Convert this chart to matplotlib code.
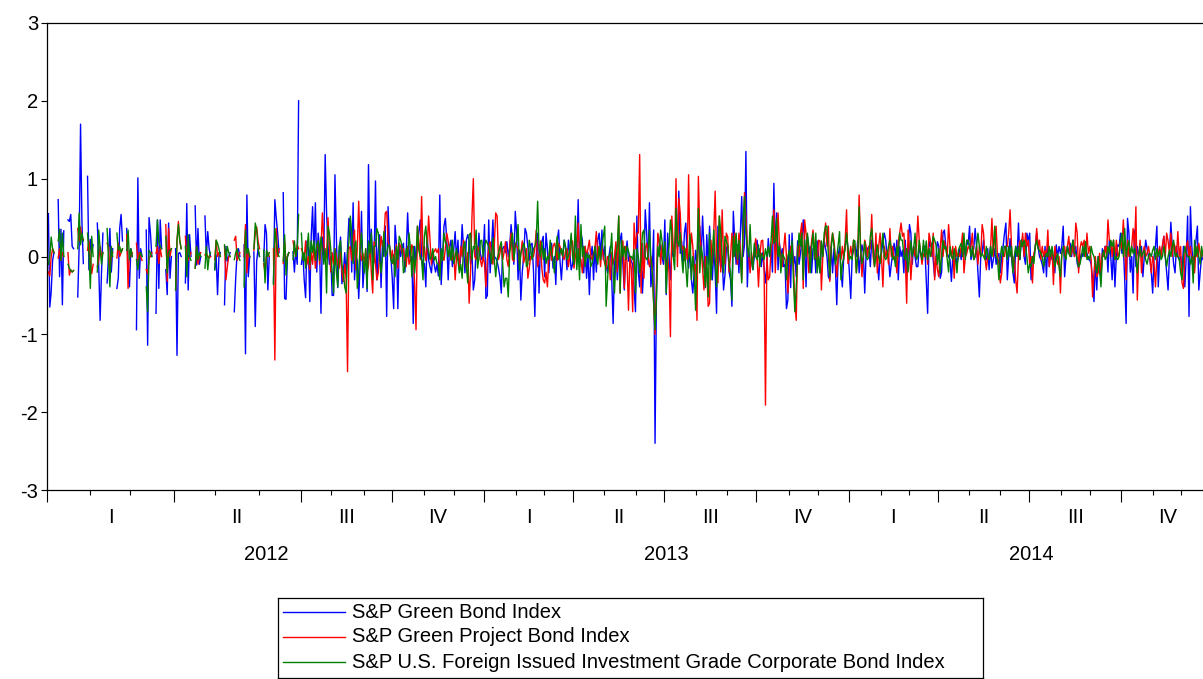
import numpy as np
import pandas as pd
import matplotlib
matplotlib.use("Agg")
import matplotlib.pyplot as plt

plt.rcParams['font.family'] = ['Liberation Sans', 'DejaVu Sans']

series_names = [
    "S&P Green Bond Index",
    "S&P Green Project Bond Index",
    "S&P U.S. Foreign Issued Investment Grade Corporate Bond Index",
]
series_colors = ["#0000FF", "#FF0000", "#008000"]
quarter_names = ["I", "II", "III", "IV"]
y_ticks = [-3, -2, -1, 0, 1, 2, 3]

# ---- S&P Green Bond Index: daily returns (%) ----
# Jan-Jun 2012, one row per week (Mon..Fri); weekends are missing
green_bond_2012_h1 = [
    0.55, -0.65, -0.45, -0.05, 0.05,
    0.73, -0.26, 0.35, -0.62, 0.33,
    0.47, 0.45, 0.54, 0.13, 0.1,
    -0.52, 0.13, 1.70, 0.43, -0.09,
    1.03, -0.17, 0.22, 0.05, 0.15,
    0.43, -0.12, -0.82, -0.2, 0.3,
    -0.34, 0.0, 0.36, -0.2, 0.1,
    -0.41, -0.28, 0.36, 0.54, 0.2,
    0.36, -0.09, -0.39, 0.1, 0.0,
    -0.94, 1.01, -0.28, 0.1, 0.0,
    0.34, -1.14, 0.5, 0.3, 0.0,
    -0.73, 0.47, -0.41, 0.47, 0.1,
    -0.17, -0.49, 0.43, -0.28, 0.0,
    0.1, -1.27, 0.04, 0.05, 0.0,
    -0.34, 0.68, -0.43, 0.28, 0.0,
    0.65, -0.11, 0.36, -0.1, 0.0,
    0.52, 0.0, 0.32, 0.1, 0.0,
    -0.17, 0.02, -0.49, 0.0, 0.05,
    -0.62, 0.13, -0.06, 0.0, 0.05,
    -0.71, -0.28, 0.05, 0.1, 0.0,
    0.15, -1.25, 0.79, -0.26, 0.0,
    0.06, -0.9, -0.06, 0.1, 0.0,
    -0.06, 0.41, 0.3, -0.43, 0.0,
    -0.34, 0.73, 0.5, 0.3, 0.05,
    0.82, -0.54, -0.55, 0.0, 0.05,
    0.06, -0.2, 0.1, -0.1, 2.0,
]
green_bond_2012_h2 = [
    -0.1, 0.05, -0.3, -0.53, 0.2, 0.1, -0.58, 0.25, 0.64, 0.0,
    0.69, -0.2, 0.3, 0.1, -0.73, 0.25, 0.0, 1.31, 0.56, 0.15,
    -0.1, 0.0, -0.5, -0.5, 1.05,
    0.25, -0.4, 0.05, 0.25, -0.35, -0.2, 0.05, -0.25, 0.1, 0.49,
    0.45, -0.2, 0.69, -0.3, 0.0, -0.05, -0.54, -0.1, 0.58, -0.4,
    -0.1, 0.0, -0.45, 1.18, 0.0, 0.35, 0.0, -0.08, 0.97, -0.3,
    0.08, 0.28, -0.4, 0.2, 0.0, 0.39, -0.77, 0.64, 0.15, 0.0,
    -0.28, -0.67, 0.4, 0.15, -0.67, 0.17, 0.0, 0.12, 0.17, -0.2,
    0.05, 0.56, 0.1, -0.06, 0.0, -0.86, 0.13, -0.04, 0.13, 0.3,
    0.47, 0.0, -0.17, -0.09, -0.39, 0.26, -0.04, -0.13, -0.21, 0.0,
    -0.1,
    -0.2, -0.1, -0.25, 0.79, -0.36, 0.0, 0.39, 0.49, 0.2, -0.3,
    0.13, 0.21, -0.13, 0.1, 0.32, -0.05, 0.21, -0.17, 0.0, 0.41,
    0.1, -0.21, 0.21, 0.28, 0.2, -0.1, 0.05, -0.43, -0.3, 0.13,
    -0.04, 0.3, 0.04, -0.04, 0.0,
]
green_bond_2013 = [
    0.41, -0.54, -0.5, 0.47, -0.21, 0.1, 0.47, 0.0, -0.02, -0.06,
    -0.15, -0.26, -0.47, 0.1, 0.13, 0.05, 0.19, 0.0, 0.1, 0.41,
    0.21, -0.1, 0.58, 0.3, -0.3, 0.08, -0.56, -0.2, 0.0, 0.36,
    0.3, 0.13, -0.05, 0.15, 0.17,
    -0.17, -0.77, 0.0, 0.3, -0.47, 0.15, 0.19, 0.26, -0.26, 0.3,
    0.1, -0.21, 0.08, 0.17, -0.15, 0.0, -0.36, 0.2, 0.34, -0.06,
    -0.3, 0.0, 0.21, 0.1, -0.17, 0.21, 0.05, -0.17, -0.1, 0.05,
    0.26, 0.0, 0.73, -0.13, 0.3, 0.21, -0.21, 0.13, -0.28, 0.05,
    -0.49, 0.0, 0.13, -0.3, 0.13, -0.2, 0.21, 0.3, 0.0, 0.34,
    -0.04, 0.13, -0.1, -0.21, 0.0, 0.13, -0.28, -0.86, -0.1, 0.15,
    -0.3, 0.0, 0.21, 0.3, -0.1, -0.43, 0.0, 0.2, -0.06, 0.0,
    -0.06, -0.1, -0.4, -0.71, 0.52, -0.2, -0.39, 0.17, -0.47, -0.1,
    0.6, 0.3, -0.1, 0.69, -0.39, -0.2, 0.34, -2.4, -0.47, 0.28,
    0.2, 0.1, 0.0, -0.1, 0.47, -0.49, 0.3, 0.0, -0.3, 0.1,
    0.0, 0.15, 0.3, 0.1, 0.84, 0.04, 0.2, -0.1, 0.3, 0.43,
    0.0, -0.15, 0.1, -0.3, -0.47, -0.2, 0.08, -0.1, 0.15, 0.39,
    0.0, 0.52, 0.1, -0.4, 0.28, -0.1, 0.39, 0.0, -0.3, 0.1,
    -0.2, -0.73, 0.39, 0.0, -0.15, 0.0, -0.43, -0.24, 0.1, 0.15,
    -0.2, -0.3, -0.64, 0.58, 0.2, -0.1, 0.15, -0.21, 0.3, 0.77,
    0.0, 0.15, 1.35, -0.39, 0.08, -0.1, -0.05, -0.17, 0.0, 0.1,
    0.21, 0.0, 0.1, -0.13, 0.05, -0.15, -0.34, -0.1, 0.23, 0.0,
    0.1, -0.2, 0.94, 0.06, 0.56, -0.17, 0.17, 0.0, 0.1, -0.13,
    -0.1, -0.67, -0.56, 0.28, -0.4, 0.3, -0.1, 0.0, -0.26, 0.2,
    -0.1, 0.04, 0.2, 0.47, 0.21, -0.39, 0.26, 0.04, 0.13, -0.21,
    0.1, 0.13, -0.21, 0.2, 0.0, -0.21, 0.19, 0.0, 0.21, 0.1,
    0.0, -0.26, -0.3, 0.13, -0.21, 0.1, -0.13, -0.62, 0.0, 0.13,
    -0.2, -0.39, 0.0, 0.13, 0.3, 0.1,
]
green_bond_2014 = [
    -0.2, -0.54, 0.0, 0.08, 0.13, 0.0, 0.21, -0.21, 0.0, 0.15,
    0.05, -0.47, 0.04, 0.1, 0.13, -0.13, 0.21, 0.13, 0.0, 0.0,
    -0.04, -0.3, 0.0, 0.04, 0.19, 0.3, 0.21, 0.0, 0.0, -0.26,
    -0.1, 0.04, 0.17, 0.0, 0.21, -0.3, 0.13, 0.0, 0.08, -0.21,
    0.21, -0.21, 0.0, 0.41, 0.3, -0.1, 0.13, 0.0, -0.13, -0.13,
    0.13, 0.04, 0.0, 0.13,
    0.13, -0.3, -0.73, 0.2, 0.13, 0.17, -0.04, -0.26, 0.0, 0.19,
    0.13, -0.28, -0.2, 0.3, 0.34, 0.13, 0.04, 0.0, -0.04, -0.32,
    0.0, -0.13, 0.02, -0.1, 0.0, 0.1, -0.04, 0.21, 0.13, 0.0,
    0.2, 0.15, 0.39, -0.04, 0.04, 0.1, 0.36, 0.13, -0.21, -0.52,
    0.0, 0.04, 0.21, 0.0, -0.04, 0.1, -0.17, 0.13, -0.15, -0.04,
    0.1, -0.1, 0.0, 0.04, -0.21, 0.0, 0.13, 0.3, 0.43, -0.3,
    0.0, 0.23, 0.0, -0.2, -0.34, 0.13, 0.0, 0.43, -0.04, 0.21,
    0.21, 0.0, -0.1, 0.3, 0.2, 0.3, -0.3, 0.0, -0.04, 0.13,
    0.3, 0.13, 0.0, -0.04, -0.1, -0.21, 0.13, -0.26, 0.17, -0.13,
    0.08, -0.04, 0.0, -0.21, 0.15, 0.0, 0.13, 0.04, 0.13, 0.39,
    -0.26, 0.0, 0.13, 0.04, 0.17, 0.0, 0.21, 0.0, 0.13, -0.09,
    -0.15, -0.04, 0.04, 0.0, 0.13, 0.0, 0.04, -0.04, -0.04, -0.1,
    -0.3, -0.58, -0.04, -0.43, 0.0, -0.13, -0.3, 0.1, 0.0, 0.13,
    0.13, -0.2, 0.21, 0.0, -0.3, 0.13, -0.39, 0.0, 0.15, 0.13,
    0.3, 0.04, 0.13, -0.3, -0.86, 0.49, 0.3, -0.2, 0.0, -0.47,
    0.34, -0.13, 0.13, 0.0, 0.1, 0.13, -0.26, 0.0, 0.21, 0.1,
    0.0, -0.04, -0.2, -0.47, 0.0, 0.13, 0.39, -0.39, 0.0, 0.04,
    0.13, 0.26, 0.0, -0.2, -0.43, 0.0, 0.44, 0.13, -0.1, -0.21,
    0.13, 0.0, -0.04, 0.0, -0.21, 0.13, -0.39, 0.0, 0.52, -0.77,
    0.64, 0.13, -0.13, 0.0, 0.21, 0.39, -0.43, -0.2, 0.0, -0.04,
]

# ---- S&P Green Project Bond Index ----
project_bond_2012_h1 = [
    -0.2, -0.25, 0.0, 0.1, 0.05,
    -0.02, 0.1, -0.05, 0.05, 0.0,
    0.05, -0.24, -0.17, -0.2, -0.18,
    0.36, 0.2, 0.38, 0.23, 0.22,
    0.08, 0.2, -0.05, -0.22, -0.1,
    -0.13, -0.05, 0.13, 0.0, 0.05,
    0.17, 0.13, -0.17, 0.0, 0.05,
    -0.02, 0.17, 0.0, 0.05, 0.1,
    0.28, -0.41, 0.08, 0.0, 0.05,
    0.17, -0.05, 0.05, 0.0, -0.05,
    -0.17, -0.22, -0.02, 0.0, 0.05,
    0.04, 0.13, -0.09, 0.1, 0.0,
    0.41, -0.32, 0.36, 0.0, 0.1,
    -0.43, 0.21, 0.45, 0.2, 0.1,
    0.26, -0.09, -0.04, 0.0, 0.05,
    -0.15, 0.13, -0.1, 0.0, 0.05,
    0.02, 0.04, 0.0, -0.02, 0.0,
    -0.04, 0.21, 0.0, 0.05, 0.0,
    0.13, -0.3, -0.13, 0.0, 0.0,
    0.21, 0.26, -0.05, 0.0, 0.05,
    0.0, 0.41, -0.21, 0.05, 0.0,
    0.08, 0.3, 0.38, 0.2, 0.1,
    -0.09, -0.21, 0.0, 0.05, 0.0,
    0.1, -1.33, 0.36, 0.0, 0.1,
    -0.09, 0.2, -0.1, 0.0, 0.05,
    0.2, 0.08, 0.0, 0.15, 0.1,
]
project_bond_2012_h2 = [
    0.1, 0.05, -0.05, 0.2, -0.1, 0.0, -0.17, 0.05, -0.1, 0.15,
    -0.15, 0.1, 0.2, -0.1, 0.1, 0.56, 0.2, -0.05, 0.0, 0.5,
    0.15, -0.2, 0.05, -0.1, 0.1,
    0.0, -0.1, -0.15, 0.05, -0.2, -0.32, -0.1, -0.3, -1.48, 0.1,
    0.13, -0.05, 0.2, 0.34, -0.17, 0.1, 0.71, 0.08, -0.05, 0.04,
    -0.09, 0.1, -0.2, -0.12, 0.15, -0.2, -0.47, 0.19, -0.1, -0.3,
    -0.21, 0.05, 0.26, 0.13, 0.19, 0.56, 0.58, 0.2, 0.13, -0.04,
    0.08, -0.1, 0.06, 0.15, -0.15, 0.17, 0.13, 0.04, 0.1, -0.04,
    -0.13, 0.13, -0.1, -0.04, 0.15, 0.1, -0.35, -0.94, 0.39, 0.2,
    -0.04, 0.77, 0.0, 0.13, -0.05, 0.1, 0.52, 0.2, -0.1, 0.06,
    0.06,
    0.1, 0.05, 0.1, -0.21, 0.05, 0.0, -0.05, 0.1, 0.3, 0.2,
    0.08, -0.04, -0.04, 0.05, -0.3, 0.0, 0.04, -0.15, 0.13, 0.0,
    0.21, 0.1, -0.15, 0.05, -0.6, -0.2, 0.5, 1.0, 0.0, -0.04,
    0.13, 0.08, -0.04, -0.13, 0.0,
]
project_bond_2013 = [
    -0.1, -0.39, -0.04, 0.1, 0.19, 0.05, -0.1, 0.15, 0.56, 0.52,
    -0.04, 0.04, 0.17, -0.04, 0.05, 0.19, -0.04, -0.13, 0.13, 0.3,
    -0.04, -0.06, 0.17, 0.13, 0.1, -0.1, 0.04, 0.2, -0.08, 0.0,
    0.1, -0.28, -0.15, 0.0, 0.0,
    0.0, 0.1, 0.34, -0.13, 0.0, 0.2, -0.15, -0.3, -0.34, -0.2,
    -0.39, 0.0, 0.1, -0.05, 0.13, 0.17, 0.1, -0.05, 0.17, 0.13,
    0.04, 0.0, -0.04, 0.08, 0.1, -0.13, 0.0, 0.15, 0.2, -0.15,
    0.0, 0.1, 0.43, 0.0, -0.04, -0.21, 0.05, 0.13, 0.0, 0.1,
    0.21, 0.0, -0.04, 0.04, 0.1, 0.32, 0.0, 0.13, -0.13, 0.13,
    0.0, -0.09, -0.15, 0.0, -0.04, -0.3, 0.05, -0.1, 0.0, 0.19,
    -0.2, 0.52, -0.47, 0.1, 0.2, -0.41, 0.13, -0.1, -0.69, 0.0,
    -0.15, -0.71, 0.43, 0.1, 0.3, 0.3, 1.31, -0.47, 0.17, -0.28,
    0.1, 0.17, 0.0, -0.13, 0.0, -0.15, -0.6, -1.0, -0.3, 0.3,
    0.2, -0.1, 0.15, 0.0, 0.15, -0.3, 0.0, -0.2, -1.03, 0.52,
    0.13, 0.0, 1.0, -0.13, 0.75, 0.56, 0.1, 0.13, -0.05, 0.1,
    -0.04, 1.05, 0.0, 0.3, 0.13, -0.2, -0.1, -0.82, 1.03, 0.3,
    0.1, -0.15, -0.43, 0.0, -0.17, -0.64, -0.6, 0.21, -0.1, 0.3,
    0.84, 0.0, -0.34, 0.52, -0.2, 0.6, 0.0, -0.1, 0.3, 0.25,
    -0.2, 0.0, 0.3, 0.0, 0.3, 0.1, -0.1, 0.3, 0.1, -0.3,
    0.3, 0.82, 0.5, 0.13, 0.0, -0.21, 0.05, -0.1, 0.1, 0.23,
    0.0, -0.39, 0.0, 0.2, 0.21, -0.15, -1.91, 0.0, -0.3, -0.26,
    0.1, 0.2, 0.6, -0.21, 0.2, 0.56, 0.13, 0.0, -0.13, 0.1,
    0.3, 0.0, -0.47, -0.2, 0.13, 0.13, -0.1, -0.6, -0.82, 0.13,
    0.0, 0.3, 0.43, -0.41, 0.47, 0.3, 0.13, -0.21, 0.0, 0.2,
    0.34, 0.1, 0.0, -0.09, 0.21, 0.2, -0.43, 0.0, 0.2, 0.43,
    0.13, 0.39, -0.32, 0.17, 0.3, 0.2, 0.0, -0.26, 0.0, 0.04,
    -0.04, 0.13, -0.04, 0.2, 0.6, -0.09,
]
project_bond_2014 = [
    0.0, 0.13, 0.0, 0.21, 0.1, -0.21, 0.0, 0.79, 0.13, -0.26,
    0.0, 0.21, 0.13, 0.0, 0.13, 0.1, 0.54, 0.0, -0.13, 0.3,
    -0.21, 0.13, 0.3, 0.0, -0.39, 0.13, 0.0, 0.08, -0.1, 0.36,
    0.0, 0.13, -0.04, 0.0, -0.21, 0.19, 0.3, 0.43, 0.26, 0.3,
    0.0, -0.6, 0.34, 0.1, -0.3, 0.0, 0.13, 0.0, 0.13, 0.52,
    0.2, 0.04, -0.1, 0.04,
    0.0, 0.13, -0.1, 0.3, 0.2, 0.0, 0.3, -0.3, 0.0, -0.17,
    -0.26, 0.1, 0.34, 0.0, 0.2, 0.1, 0.0, 0.41, 0.13, 0.0,
    0.13, -0.28, 0.13, 0.0, 0.04, 0.0, 0.13, 0.3, -0.21, 0.0,
    0.04, 0.13, 0.1, 0.13, 0.3, -0.04, 0.0, 0.13, -0.1, 0.13,
    0.0, 0.41, 0.3, 0.0, -0.17, 0.0, 0.0, 0.1, 0.49, 0.0,
    0.26, 0.39, 0.0, -0.1, -0.34, -0.21, 0.04, 0.0, 0.13, 0.13,
    0.3, 0.6, 0.13, -0.15, 0.0, -0.3, -0.47, 0.0, 0.2, 0.13,
    0.3, 0.0, 0.3, 0.13, 0.21, -0.1, 0.0, -0.34, 0.04, 0.1,
    0.36, 0.13, 0.21, -0.04, 0.13, 0.0, 0.08, 0.0, 0.34, -0.13,
    0.0, 0.1, -0.36, 0.13, 0.0, -0.1, 0.0, -0.47, 0.04, 0.1,
    0.13, 0.0, 0.13, 0.26, 0.0, 0.04, 0.13, 0.0, 0.43, 0.3,
    -0.21, 0.1, 0.19, 0.13, 0.21, 0.0, 0.3, 0.04, 0.13, -0.04,
    -0.52, -0.2, 0.0, -0.26, -0.21, 0.04, -0.21, 0.04, 0.0, 0.13,
    0.0, 0.47, 0.21, 0.2, 0.0, 0.21, -0.04, 0.21, 0.0, 0.04,
    0.2, 0.1, 0.47, 0.13, -0.3, 0.21, 0.0, 0.04, 0.13, 0.36,
    0.1, 0.64, -0.56, 0.0, 0.21, -0.21, 0.04, 0.13, 0.0, 0.04,
    0.13, 0.0, -0.21, 0.0, -0.1, -0.39, 0.0, 0.04, 0.13, 0.0,
    0.15, 0.26, 0.0, 0.3, 0.2, 0.04, 0.3, 0.0, 0.17, 0.13,
    0.0, 0.32, 0.0, 0.13, -0.34, -0.41, 0.0, 0.13, 0.2, 0.0,
    0.13, -0.04, 0.0, -0.21, 0.13, 0.0, 0.17, 0.04, 0.0, 0.04,
]

# ---- S&P U.S. Foreign Issued IG Corporate Bond Index ----
corporate_2012_h1 = [
    -0.1, 0.0, 0.25, 0.1, 0.05,
    0.2, 0.35, -0.05, 0.3, 0.0,
    -0.1, -0.15, -0.18, -0.2, -0.18,
    0.1, 0.56, 0.15, 0.3, 0.2,
    0.3, 0.04, -0.41, 0.26, 0.0,
    -0.2, 0.34, 0.1, -0.1, 0.05,
    0.36, -0.04, -0.39, 0.13, 0.0,
    0.3, 0.08, 0.13, 0.05, 0.1,
    0.08, 0.34, -0.04, 0.1, 0.0,
    -0.04, -0.17, 0.0, 0.05, 0.0,
    -0.39, -0.71, 0.08, 0.05, 0.0,
    0.13, 0.47, 0.19, 0.13, 0.1,
    0.26, -0.21, 0.04, 0.08, 0.1,
    -0.43, 0.2, 0.41, 0.2, 0.1,
    0.13, -0.26, 0.28, 0.0, -0.05,
    -0.15, 0.13, -0.04, 0.05, 0.0,
    -0.15, 0.13, -0.17, 0.0, 0.05,
    -0.17, 0.21, 0.17, 0.1, 0.0,
    0.15, -0.04, 0.13, 0.05, 0.0,
    -0.04, 0.05, 0.1, 0.0, -0.05,
    -0.39, 0.34, 0.04, 0.1, 0.0,
    0.1, 0.43, 0.34, 0.1, 0.0,
    0.08, -0.34, 0.08, 0.0, 0.05,
    -0.36, 0.36, 0.2, 0.05, 0.0,
    -0.06, 0.28, -0.24, 0.0, 0.05,
    -0.04, 0.2, 0.0, 0.1, 0.54,
]
corporate_2012_h2 = [
    0.3, -0.05, 0.05, -0.15, 0.1, 0.3, -0.1, 0.2, 0.05, 0.2,
    -0.05, 0.15, 0.2, -0.05, 0.25, 0.1, -0.1, 0.1, -0.47, 0.39,
    0.3, 0.1, -0.2, -0.47, 0.1,
    -0.2, -0.39, 0.13, 0.2, -0.1, -0.21, -0.39, -0.47, 0.04, 0.19,
    0.52, 0.3, -0.09, 0.13, 0.2, -0.41, -0.21, 0.13, 0.3, -0.04,
    -0.21, 0.1, -0.41, 0.2, 0.04, 0.3, -0.3, 0.13, 0.13, 0.36,
    0.3, -0.04, -0.21, 0.0, 0.32, 0.0, 0.04, 0.13, 0.15, -0.04,
    -0.09, 0.02, -0.26, 0.13, -0.04, 0.26, 0.21, 0.13, -0.21, -0.15,
    0.1, 0.0, 0.3, 0.1, -0.26, 0.13, -0.21, 0.0, 0.39, 0.08,
    0.0, -0.04, -0.3, 0.26, 0.39, 0.13, 0.08, -0.04, 0.0, 0.1,
    -0.05,
    0.0, -0.09, -0.1, -0.3, 0.1, -0.05, 0.3, 0.19, 0.15, 0.0,
    0.13, -0.05, 0.21, -0.09, 0.0, 0.1, -0.05, -0.21, -0.1, -0.28,
    0.13, 0.19, -0.13, -0.34, 0.28, 0.3, -0.04, 0.13, 0.1, 0.34,
    -0.15, -0.02, 0.2, 0.21, 0.0,
]
corporate_2013 = [
    0.13, 0.21, 0.17, 0.13, 0.04, -0.09, 0.24, -0.04, -0.26, -0.04,
    0.04, 0.13, 0.19, -0.09, -0.39, -0.28, -0.28, -0.52, 0.04, 0.19,
    0.3, -0.04, 0.13, 0.2, 0.41, -0.17, 0.04, 0.1, 0.17, 0.1,
    -0.13, -0.1, 0.21, 0.1, -0.04,
    0.1, 0.13, 0.2, 0.71, 0.1, 0.0, 0.19, -0.04, 0.1, -0.09,
    0.0, -0.04, 0.21, 0.04, -0.04, -0.21, 0.1, 0.26, -0.04, 0.04,
    0.1, 0.0, 0.21, 0.13, -0.04, 0.0, 0.1, 0.3, 0.0, -0.1,
    0.52, -0.17, 0.1, -0.3, 0.41, 0.0, 0.13, -0.13, 0.04, -0.02,
    0.02, -0.13, -0.08, 0.0,
    0.13, 0.0, -0.1, 0.13, -0.04, 0.13, 0.26, 0.39, -0.64, -0.3,
    0.0, 0.04, 0.3, -0.21, -0.47, 0.0, 0.13, 0.52, -0.47, 0.21,
    0.0, 0.13, -0.04, 0.13, 0.07, 0.0,
    0.0, -0.04, 0.09, -0.47, 0.1, 0.0, -0.21, 0.0, 0.3, 0.34,
    0.0, -0.04, 0.0, 0.34, 0.0, -0.2, -0.6, -0.94, -0.56, 0.13,
    0.0, 0.34, 0.2, -0.04, 0.19, -0.47, 0.0, 0.13, 0.47, 0.3,
    0.0, -0.17, 0.62, 0.2, 0.13, 0.3, 0.0, -0.21, 0.13, -0.13,
    -0.39, 0.0, 0.28, -0.3, 0.0, -0.2, -0.69, 0.0, 0.62, -0.21,
    0.13, 0.0, -0.15, -0.39, 0.0, -0.52, 0.3, -0.3, 0.0, 0.34,
    -0.04, -0.39, 0.0, 0.52, 0.3, 0.0, -0.21, 0.26, 0.2, 0.13,
    -0.09, -0.2, -0.56, 0.26, 0.0, 0.3, -0.04, 0.21, 0.0, -0.34,
    0.47, 0.77, 0.3, 0.13, 0.0, 0.41, -0.04, -0.17, 0.17, 0.0,
    -0.04, 0.15, -0.13, 0.04, 0.0, -0.04, 0.1, 0.0, 0.13, 0.0,
    0.2, 0.52, 0.17, 0.2, 0.49, 0.0, 0.13, -0.21, 0.04, 0.0,
    -0.04, -0.3, 0.0, 0.08, -0.1, 0.2, -0.3, -0.71, -0.39, 0.0,
    0.3, 0.13, 0.3, -0.3, 0.21, 0.0, 0.3, 0.13, -0.21, 0.1,
    0.3, -0.04, 0.3, -0.21, 0.0, -0.21, 0.2, 0.0, 0.3, 0.39,
    0.39, 0.0, -0.26, 0.1, 0.3, 0.13, -0.1, 0.0, 0.15, 0.32,
    -0.3, -0.1, 0.0, 0.1, 0.3, 0.1,
]
corporate_2014 = [
    -0.04, 0.0, -0.04, 0.21, 0.2, -0.21, 0.0, 0.64, 0.1, -0.09,
    0.0, 0.19, 0.0, -0.04, 0.0, 0.26, 0.36, 0.1, -0.13, 0.0,
    0.15, 0.0, -0.09, 0.13, 0.3, 0.0, -0.04, 0.0, 0.13, 0.21,
    0.1, -0.04, 0.0, -0.13, 0.13, 0.0, 0.3, 0.21, 0.21, 0.0,
    -0.04, 0.1, -0.2, 0.0, 0.2, 0.0, 0.1, 0.3, -0.04, 0.0,
    0.21, 0.04, -0.04, 0.21,
    0.0, 0.2, -0.04, 0.1, 0.0, 0.13, 0.26, 0.21, 0.15, -0.1,
    0.1, -0.21, 0.0, 0.21, 0.1, 0.13, -0.04, -0.2, 0.13, 0.0,
    -0.04, 0.1, -0.04, -0.21, 0.08, 0.13, 0.17, 0.0, 0.3, -0.04,
    0.21, 0.21, 0.13, 0.0, 0.13, -0.04, 0.0, 0.13, 0.3, 0.13,
    0.0, 0.04, 0.0, -0.04, 0.13, 0.0, -0.04, 0.13, 0.0, 0.13,
    0.39, 0.0, -0.04, -0.3, 0.0, 0.13, 0.0, 0.13, 0.13, -0.04,
    0.13, 0.0, 0.13, -0.21, 0.0, 0.13, 0.0, 0.13, -0.04, 0.21,
    0.13, 0.21, 0.13, 0.0, -0.21, -0.1, -0.13, 0.0, -0.09, 0.13,
    0.21, 0.1, 0.08, 0.04, 0.0, -0.13, -0.04, 0.04, 0.0, 0.13,
    0.0, 0.13, 0.0, -0.13, -0.04, 0.04, -0.13, -0.26, 0.04, 0.13,
    0.0, -0.04, 0.13, 0.04, 0.0, 0.13, 0.21, 0.04, 0.04, -0.04,
    -0.13, -0.1, 0.0, 0.13, 0.0, 0.19, -0.04, 0.0, -0.04, 0.13,
    0.04, 0.0, -0.1, -0.21, 0.0, -0.17, -0.39, 0.0, 0.08, -0.04,
    0.0, 0.13, 0.04, 0.21, 0.13, 0.21, -0.04, 0.0, -0.04, 0.0,
    0.2, 0.3, 0.0, 0.36, 0.0, 0.13, 0.2, 0.0, 0.13, 0.04,
    0.1, 0.0, -0.21, 0.0, 0.13, 0.0, 0.04, 0.08, -0.04, -0.1,
    0.0, 0.04, 0.0, 0.08, 0.13, -0.04, 0.1, 0.0, 0.08, -0.04,
    0.0, 0.13, 0.0, -0.13, 0.0, 0.08, 0.0, 0.13, 0.21, 0.0,
    0.04, 0.0, -0.04, -0.21, -0.3, 0.0, 0.13, 0.04, 0.0, 0.0,
    -0.1, 0.0, -0.34, 0.21, 0.0, 0.13, 0.0, -0.1, 0.13, 0.0,
]

# ---- observation calendar ----
# first half of 2012 is on a 7-day calendar (weekends empty),
# from July 2012 on the workfile holds business days only
h1_days = pd.date_range("2012-01-01", "2012-06-30", freq="D")
h1_weekday = np.asarray(h1_days.dayofweek < 5)

rest_parts = [
    (green_bond_2012_h2, green_bond_2013, green_bond_2014),
    (project_bond_2012_h2, project_bond_2013, project_bond_2014),
    (corporate_2012_h2, corporate_2013, corporate_2014),
]
h1_parts = [green_bond_2012_h1, project_bond_2012_h1, corporate_2012_h1]
n_rest = max(len(a) + len(b) + len(c) for a, b, c in rest_parts)
bdays = pd.bdate_range("2012-07-02", periods=n_rest)
dates = h1_days.append(bdays)
n_obs = len(dates)
x = np.arange(n_obs)


def assemble(h1, parts):
    vals = np.full(n_obs, np.nan)
    first = np.full(len(h1_days), np.nan)
    first[np.flatnonzero(h1_weekday)[:len(h1)]] = h1
    vals[:len(h1_days)] = first
    rest = np.concatenate([np.asarray(p, float) for p in parts])
    vals[len(h1_days):len(h1_days) + len(rest)] = rest
    return vals


series = [assemble(h, p) for h, p in zip(h1_parts, rest_parts)]

# ---- figure ----
W, H = 1203, 679
FS = 14.5
fig = plt.figure(figsize=(W / 100, H / 100), dpi=100)
ax = fig.add_axes([47 / W, (H - 490) / H, (W - 47) / W, 467 / H])

for vals, col in zip(series, series_colors):
    ax.plot(x, vals, color=col, lw=1.0)

ax.set_xlim(0, n_obs - 1)
ax.set_ylim(-3, 3)
ax.set_yticks(y_ticks)
ax.set_yticklabels([str(v) for v in y_ticks], fontsize=FS)
ax.tick_params(axis="y", direction="out", length=4.5, width=0.8, pad=2)

for side in ("left", "bottom", "top"):
    ax.spines[side].set_linewidth(0.9)
ax.spines["right"].set_visible(False)

# calendar ticks: long at quarter starts, short at month starts
q_per = dates.to_period("Q")
m_per = dates.to_period("M")
q_starts = [i for i in range(n_obs) if i == 0 or q_per[i] != q_per[i - 1]]
m_starts = [i for i in range(1, n_obs)
            if m_per[i] != m_per[i - 1] and i not in q_starts]


def edge(i):
    return max(i - 0.5, 0)


ax.set_xticks([edge(i) for i in q_starts])
ax.set_xticks([edge(i) for i in m_starts], minor=True)
ax.set_xticklabels([])
ax.tick_params(axis="x", which="major", direction="out", length=8.5, width=0.8)
ax.tick_params(axis="x", which="minor", direction="out", length=3.5, width=0.8)


def span_slots(start, end):
    # number of observation slots a full period occupies on this calendar
    if end <= pd.Timestamp("2012-06-30"):
        return len(pd.date_range(start, end, freq="D"))
    if start < pd.Timestamp("2012-07-01"):
        return (len(pd.date_range(start, "2012-06-30", freq="D"))
                + len(pd.bdate_range("2012-07-01", end)))
    return len(pd.bdate_range(start, end))


tr = ax.get_xaxis_transform()
for i in q_starts:
    q = q_per[i]
    mid = edge(i) + span_slots(q.start_time, q.end_time.normalize()) / 2
    ax.text(mid, -0.058, quarter_names[q.quarter - 1], transform=tr,
            ha="center", va="center", fontsize=FS)

y_per = dates.to_period("Y")
y_starts = [i for i in range(n_obs) if i == 0 or y_per[i] != y_per[i - 1]]
for i in y_starts:
    yr = y_per[i]
    mid = edge(i) + span_slots(yr.start_time, yr.end_time.normalize()) / 2
    ax.text(mid, -0.139, str(yr.year), transform=tr,
            ha="center", va="center", fontsize=FS)

# legend box below the plot
leg_ax = fig.add_axes([278 / W, (H - 678) / H, 705 / W, 80 / H])
leg_ax.set_xlim(0, 705)
leg_ax.set_ylim(80, 0)
leg_ax.set_xticks([])
leg_ax.set_yticks([])
for s in leg_ax.spines.values():
    s.set_linewidth(0.9)
for row, (name, col) in enumerate(zip(series_names, series_colors)):
    yy = 14 + 25 * row
    leg_ax.plot([5, 67], [yy, yy], color=col, lw=1.0)
    leg_ax.text(74, yy, name, ha="left", va="center", fontsize=FS)

fig.savefig("out.png", dpi=100)
